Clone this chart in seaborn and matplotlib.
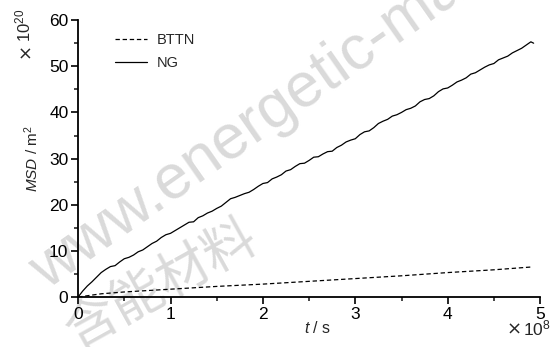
import matplotlib
matplotlib.use("Agg")
import matplotlib.pyplot as plt
from matplotlib.ticker import MultipleLocator
from matplotlib.lines import Line2D
import pandas as pd
import seaborn as sns

# time in units of 1e8 s, MSD in units of 1e20 m^2
ng_t = [0, 0.05, 0.1, 0.15, 0.2, 0.25, 0.3, 0.35, 0.4, 0.45, 0.5, 0.55, 0.6, 0.65,
        0.7, 0.75, 0.8, 0.85, 0.9, 0.95, 1.0, 1.05, 1.1, 1.15, 1.2, 1.25, 1.3, 1.35,
        1.4, 1.45, 1.5, 1.55, 1.6, 1.65, 1.7, 1.75, 1.8, 1.85, 1.9, 1.95, 2.0, 2.05,
        2.1, 2.15, 2.2, 2.25, 2.3, 2.35, 2.4, 2.45, 2.5, 2.55, 2.6, 2.65, 2.7, 2.75,
        2.8, 2.85, 2.9, 2.95, 3.0, 3.05, 3.1, 3.15, 3.2, 3.25, 3.3, 3.35, 3.4, 3.45,
        3.5, 3.55, 3.6, 3.65, 3.7, 3.75, 3.8, 3.85, 3.9, 3.95, 4.0, 4.05, 4.1, 4.15,
        4.2, 4.25, 4.3, 4.35, 4.4, 4.45, 4.5, 4.55, 4.6, 4.65, 4.7, 4.75, 4.8, 4.85,
        4.9, 4.93]
ng_msd = [0, 1.3, 2.4, 3.3, 4.3, 5.3, 6.0, 6.6, 6.8, 7.6, 8.3, 8.6, 9.1, 9.8,
          10.2, 10.9, 11.6, 12.1, 12.9, 13.5, 13.8, 14.4, 15.0, 15.6, 16.2, 16.3, 17.2, 17.6,
          18.2, 18.6, 19.2, 19.7, 20.5, 21.3, 21.6, 22.0, 22.4, 22.7, 23.3, 24.0, 24.6, 24.8,
          25.6, 26.0, 26.5, 27.3, 27.6, 28.3, 28.9, 29.0, 29.6, 30.3, 30.4, 31.0, 31.5, 31.6,
          32.4, 32.9, 33.6, 34.0, 34.3, 35.2, 35.8, 36.0, 36.7, 37.6, 38.1, 38.5, 39.2, 39.5,
          40.0, 40.6, 40.9, 41.4, 42.3, 42.8, 43.0, 43.6, 44.5, 45.1, 45.3, 45.9, 46.6, 47.0,
          47.5, 48.3, 48.6, 49.2, 49.8, 50.3, 50.6, 51.4, 51.8, 52.2, 52.9, 53.4, 53.9, 54.6,
          55.3, 55.0]

bttn_t = [0, 0.25, 0.5, 1.0, 1.5, 2.0, 2.5, 3.0, 3.5, 4.0, 4.5, 4.9]
bttn_msd = [0, 0.7, 1.1, 1.7, 2.3, 2.8, 3.4, 4.0, 4.6, 5.3, 5.9, 6.5]

series_names = ["BTTN", "NG"]

df = pd.concat([
    pd.DataFrame({"t": bttn_t, "msd": bttn_msd, "sample": "BTTN"}),
    pd.DataFrame({"t": ng_t, "msd": ng_msd, "sample": "NG"}),
], ignore_index=True)

sns.set_style("ticks")
plt.rcParams["font.family"] = ["Liberation Sans", "Noto Sans CJK SC", "DejaVu Sans"]
plt.rcParams["mathtext.fontset"] = "custom"
plt.rcParams["mathtext.rm"] = "Liberation Sans"
plt.rcParams["mathtext.it"] = "Liberation Sans:italic"

fig = plt.figure(figsize=(5.5, 3.47), dpi=100)
ax = fig.add_axes([0.142, 0.144, 0.840, 0.798])
ax.patch.set_alpha(0)

# journal watermark behind the axes
wm_color = "#dadada"
fig.text(0.085, 0.164, "www.energetic-materials.org.cn", rotation=35, fontsize=45,
         color=wm_color, ha="left", va="baseline", zorder=-5,
         rotation_mode="anchor")
fig.text(0.293, 0.179, "含能材料", rotation=29, fontsize=38, fontweight="light",
         family=["Noto Sans CJK SC"], color=wm_color, ha="center", va="center",
         zorder=-5, rotation_mode="anchor")

sns.lineplot(data=df, x="t", y="msd", hue="sample", style="sample",
             hue_order=series_names, style_order=series_names,
             palette={"BTTN": "black", "NG": "black"},
             dashes={"BTTN": (3.5, 2.2), "NG": ""},
             linewidth=0.9, sort=False, legend=False, ax=ax)

ax.set_xlim(0, 5)
ax.set_ylim(0, 60)
ax.xaxis.set_major_locator(MultipleLocator(1))
ax.xaxis.set_minor_locator(MultipleLocator(0.5))
ax.yaxis.set_major_locator(MultipleLocator(10))
ax.yaxis.set_minor_locator(MultipleLocator(5))
ax.tick_params(which="major", direction="out", length=5, width=1.2, labelsize=12.5,
               colors="black", pad=2)
ax.tick_params(which="minor", direction="out", length=3, width=1.2)
sns.despine(ax=ax)
for side in ("left", "bottom"):
    ax.spines[side].set_linewidth(1.3)
    ax.spines[side].set_color("black")

ax.set_xlabel(r"$\mathit{t}$ / s", fontsize=11.5)
ax.xaxis.set_label_coords(0.519, -0.083)
ax.set_ylabel(r"$\mathit{MSD}$ / m$^2$", fontsize=11, labelpad=6)

# scale factors: a wide multiplication sign followed by the power of ten
fig.text(0.0545, 1 - 43 / 347, "×", rotation=90, fontsize=13,
         family=["DejaVu Sans"], ha="right", va="baseline", rotation_mode="anchor")
fig.text(0.0545, 1 - 42 / 347, "10$^{20}$", rotation=90, fontsize=12,
         ha="left", va="baseline", rotation_mode="anchor")
fig.text(522 / 550, 1 - 335 / 347, "×", fontsize=13, family=["DejaVu Sans"],
         ha="right", va="baseline")
fig.text(523 / 550, 1 - 335 / 347, "10$^{8}$", fontsize=12.5,
         ha="left", va="baseline")

handles = [Line2D([], [], color="black", lw=0.9, dashes=(3.5, 2.2)),
           Line2D([], [], color="black", lw=0.9)]
ax.legend(handles, series_names, loc="upper left", bbox_to_anchor=(0.06, 0.985),
          frameon=False, fontsize=10.5, handlelength=2.2, handletextpad=0.7,
          labelspacing=0.6, borderaxespad=0.2)

fig.savefig("out.png", dpi=100)
